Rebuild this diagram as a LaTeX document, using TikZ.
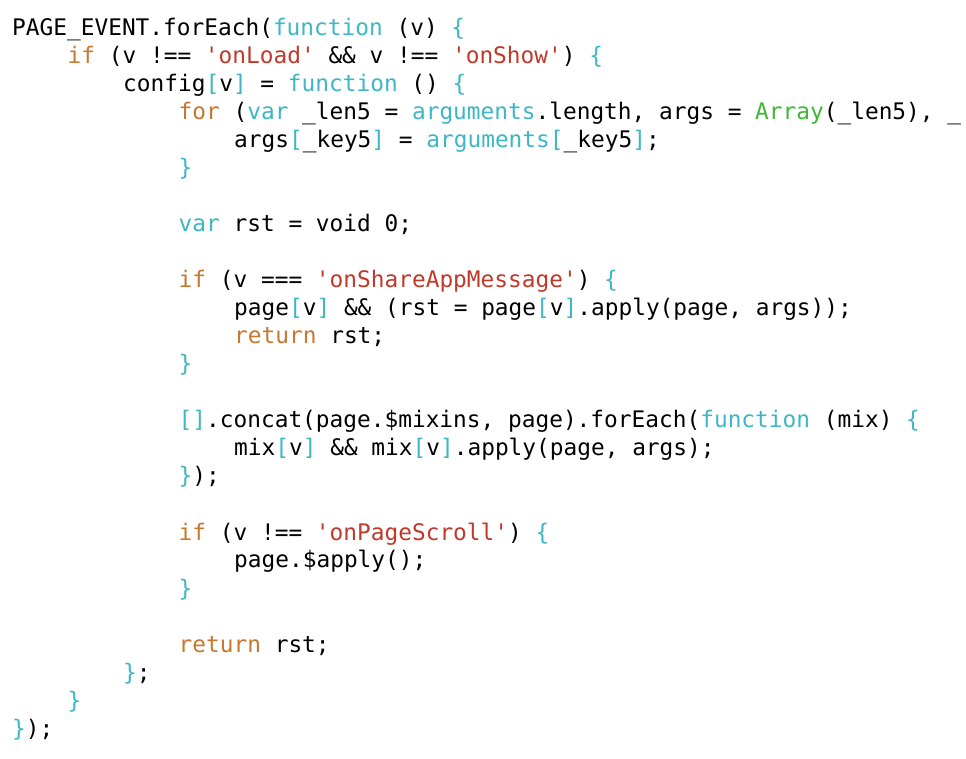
\documentclass[tikz,border=0pt]{standalone}
\usepackage{fontspec}
\setmonofont{DejaVu Sans Mono}
\definecolor{kw}{HTML}{C8782E}
\definecolor{st}{HTML}{C0392B}
\definecolor{cy}{HTML}{3DB7C4}
\definecolor{gr}{HTML}{3DB833}
\newcommand{\K}[1]{\textcolor{kw}{#1}}
\newcommand{\Sx}[1]{\textcolor{st}{#1}}
\newcommand{\C}[1]{\textcolor{cy}{#1}}
\newcommand{\G}[1]{\textcolor{gr}{#1}}
\newcommand{\codeln}[3]{\node[code] (l#1) at ({12+#2*55.5},{758-36-28*#1}) {#3};}
\begin{document}
\begin{tikzpicture}[x=1pt,y=1pt,
  code/.style={anchor=base west,inner sep=0pt,font=\ttfamily\fontsize{22.8}{27}\selectfont,text=black}]
\fill[white] (0,0) rectangle (966,758);
\useasboundingbox (0,0) rectangle (966,758);
\clip (0,0) rectangle (966,758);
\codeln{0}{0}{PAGE\_EVENT.forEach(\C{function} (v) \C{\{}}
\codeln{1}{1}{\K{if} (v !== \Sx{'onLoad'} \&\& v !== \Sx{'onShow'}) \C{\{}}
\codeln{2}{2}{config\C{[}v\C{]} = \C{function} () \C{\{}}
\codeln{3}{3}{\K{for} (\C{var} \_len5 = \C{arguments}.length, args = \G{Array}(\_len5), \_}
\codeln{4}{4}{args\C{[}\_key5\C{]} = \C{arguments}\C{[}\_key5\C{]};}
\codeln{5}{3}{\C{\}}}
\codeln{7}{3}{\C{var} rst = void 0;}
\codeln{9}{3}{\K{if} (v === \Sx{'onShareAppMessage'}) \C{\{}}
\codeln{10}{4}{page\C{[}v\C{]} \&\& (rst = page\C{[}v\C{]}.apply(page, args));}
\codeln{11}{4}{\K{return} rst;}
\codeln{12}{3}{\C{\}}}
\codeln{14}{3}{\C{[]}.concat(page.\$mixins, page).forEach(\C{function} (mix) \C{\{}}
\codeln{15}{4}{mix\C{[}v\C{]} \&\& mix\C{[}v\C{]}.apply(page, args);}
\codeln{16}{3}{\C{\}});}
\codeln{18}{3}{\K{if} (v !== \Sx{'onPageScroll'}) \C{\{}}
\codeln{19}{4}{page.\$apply();}
\codeln{20}{3}{\C{\}}}
\codeln{22}{3}{\K{return} rst;}
\codeln{23}{2}{\C{\}};}
\codeln{24}{1}{\C{\}}}
\codeln{25}{0}{\C{\}});}
\end{tikzpicture}
\end{document}
